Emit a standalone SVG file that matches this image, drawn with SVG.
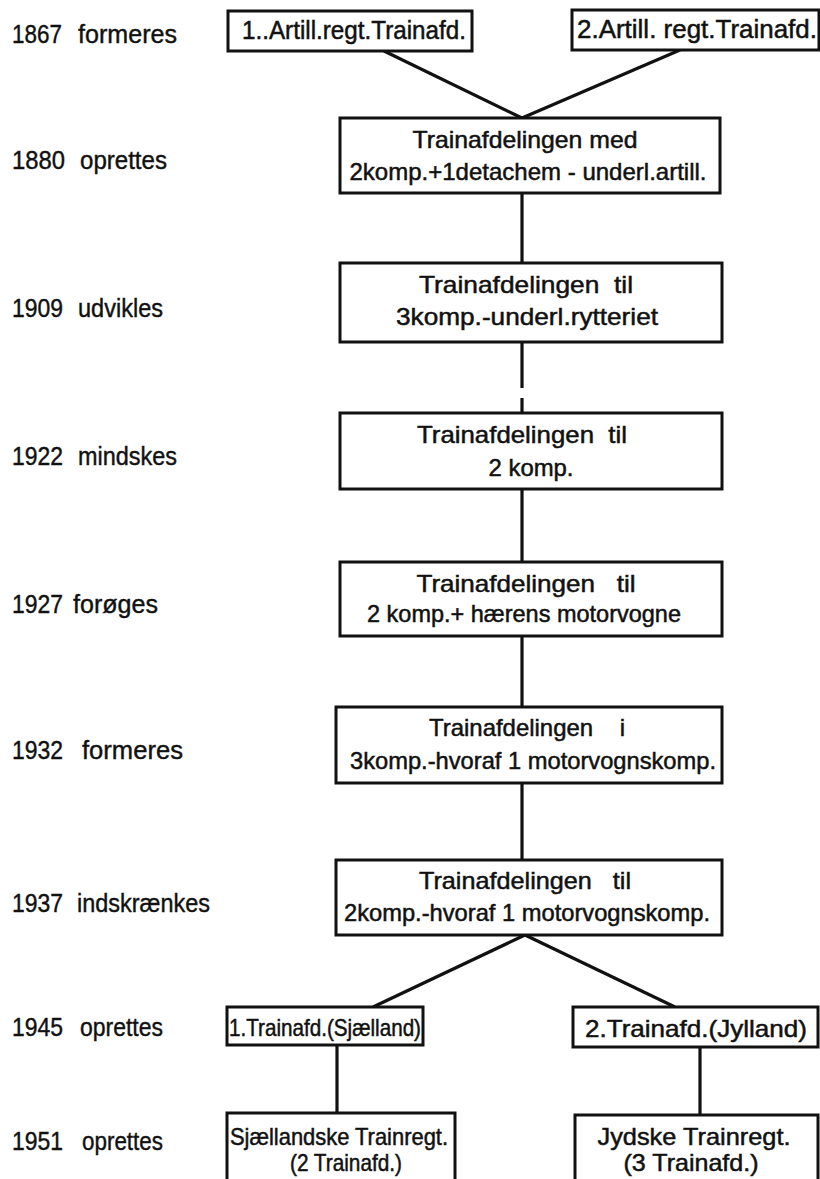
<svg xmlns="http://www.w3.org/2000/svg" width="820" height="1179" viewBox="0 0 820 1179">
<style>
.box{fill:#fff;stroke:#111;stroke-width:3}
.ln{stroke:#111;stroke-width:3.2;fill:none;stroke-linecap:butt}
.t{font-family:"Liberation Sans","DejaVu Sans",sans-serif;font-size:24px;fill:#111;stroke:#111;stroke-width:0.5;text-anchor:middle;white-space:pre}
.tb{font-size:26px}
.lb{font-family:"Liberation Sans","DejaVu Sans",sans-serif;font-size:25px;fill:#111;stroke:#111;stroke-width:0.4;white-space:pre}
</style>
<rect width="820" height="1179" fill="#fff"/>
<g id="connectors">
<line class="ln" x1="384" y1="51" x2="522" y2="118"/>
<line class="ln" x1="680" y1="50" x2="522" y2="118"/>
<line class="ln" x1="522" y1="193" x2="522" y2="263"/>
<line class="ln" x1="522" y1="342" x2="522" y2="388"/>
<line class="ln" x1="522" y1="398" x2="522" y2="413"/>
<line class="ln" x1="522" y1="489" x2="522" y2="562"/>
<line class="ln" x1="522" y1="636" x2="522" y2="707"/>
<line class="ln" x1="522" y1="783" x2="522" y2="860"/>
<line class="ln" x1="525" y1="935" x2="373" y2="1007"/>
<line class="ln" x1="525" y1="935" x2="675" y2="1007"/>
<line class="ln" x1="337" y1="1045" x2="337" y2="1113"/>
<line class="ln" x1="700" y1="1047" x2="700" y2="1115"/>
</g>
<g id="labels">
<text class="lb" x="12" y="43" textLength="50" lengthAdjust="spacingAndGlyphs">1867</text><text class="lb" x="78" y="43" textLength="99" lengthAdjust="spacingAndGlyphs">formeres</text>
<text class="lb" x="12" y="169" textLength="53" lengthAdjust="spacingAndGlyphs">1880</text><text class="lb" x="80" y="169" textLength="87" lengthAdjust="spacingAndGlyphs">oprettes</text>
<text class="lb" x="12" y="317" textLength="51" lengthAdjust="spacingAndGlyphs">1909</text><text class="lb" x="78" y="317" textLength="85" lengthAdjust="spacingAndGlyphs">udvikles</text>
<text class="lb" x="12" y="465" textLength="51" lengthAdjust="spacingAndGlyphs">1922</text><text class="lb" x="78" y="465" textLength="99" lengthAdjust="spacingAndGlyphs">mindskes</text>
<text class="lb" x="12" y="613" textLength="51" lengthAdjust="spacingAndGlyphs">1927</text><text class="lb" x="73" y="613" textLength="85" lengthAdjust="spacingAndGlyphs">forøges</text>
<text class="lb" x="12" y="759" textLength="51" lengthAdjust="spacingAndGlyphs">1932</text><text class="lb" x="82" y="759" textLength="101" lengthAdjust="spacingAndGlyphs">formeres</text>
<text class="lb" x="12" y="912" textLength="51" lengthAdjust="spacingAndGlyphs">1937</text><text class="lb" x="77" y="912" textLength="133" lengthAdjust="spacingAndGlyphs">indskrænkes</text>
<text class="lb" x="12" y="1036" textLength="51" lengthAdjust="spacingAndGlyphs">1945</text><text class="lb" x="80" y="1036" textLength="83" lengthAdjust="spacingAndGlyphs">oprettes</text>
<text class="lb" x="12" y="1150" textLength="51" lengthAdjust="spacingAndGlyphs">1951</text><text class="lb" x="82" y="1150" textLength="81" lengthAdjust="spacingAndGlyphs">oprettes</text>
</g>
<g id="n1867a"><rect class="box" x="228" y="11" width="244" height="40"/><text class="t tb" x="354" y="39" textLength="224" lengthAdjust="spacingAndGlyphs">1..Artill.regt.Trainafd.</text></g>
<g id="n1867b"><rect class="box" x="572" y="10" width="247" height="40"/><text class="t tb" x="697" y="38" textLength="240" lengthAdjust="spacingAndGlyphs">2.Artill. regt.Trainafd.</text></g>
<g id="n1880"><rect class="box" x="340" y="118" width="380" height="75"/><text class="t" x="525" y="148" textLength="225" lengthAdjust="spacingAndGlyphs">Trainafdelingen med</text><text class="t" x="528" y="180" textLength="357" lengthAdjust="spacingAndGlyphs">2komp.+1detachem - underl.artill.</text></g>
<g id="n1909"><rect class="box" x="340" y="263" width="382" height="79"/><text class="t" x="526" y="293" textLength="214" lengthAdjust="spacingAndGlyphs">Trainafdelingen  til</text><text class="t" x="527" y="325" textLength="262" lengthAdjust="spacingAndGlyphs">3komp.-underl.rytteriet</text></g>
<g id="n1922"><rect class="box" x="340" y="413" width="382" height="76"/><text class="t" x="522" y="443" textLength="210" lengthAdjust="spacingAndGlyphs">Trainafdelingen  til</text><text class="t" x="531" y="476" textLength="85" lengthAdjust="spacingAndGlyphs">2 komp.</text></g>
<g id="n1927"><rect class="box" x="340" y="562" width="382" height="74"/><text class="t" x="526" y="592" textLength="219" lengthAdjust="spacingAndGlyphs">Trainafdelingen   til</text><text class="t" x="524" y="622" textLength="314" lengthAdjust="spacingAndGlyphs">2 komp.+ hærens motorvogne</text></g>
<g id="n1932"><rect class="box" x="336" y="707" width="386" height="76"/><text class="t" x="527" y="736" textLength="196" lengthAdjust="spacingAndGlyphs">Trainafdelingen    i</text><text class="t" x="533" y="769" textLength="366" lengthAdjust="spacingAndGlyphs">3komp.-hvoraf 1 motorvognskomp.</text></g>
<g id="n1937"><rect class="box" x="336" y="860" width="386" height="75"/><text class="t" x="525" y="889" textLength="212" lengthAdjust="spacingAndGlyphs">Trainafdelingen   til</text><text class="t" x="527" y="921" textLength="366" lengthAdjust="spacingAndGlyphs">2komp.-hvoraf 1 motorvognskomp.</text></g>
<g id="n1945a"><rect class="box" x="227" y="1007" width="196" height="38"/><text class="t" x="325" y="1036" textLength="192" lengthAdjust="spacingAndGlyphs">1.Trainafd.(Sjælland)</text></g>
<g id="n1945b"><rect class="box" x="573" y="1007" width="245" height="40"/><text class="t" x="696" y="1037" textLength="222" lengthAdjust="spacingAndGlyphs">2.Trainafd.(Jylland)</text></g>
<g id="n1951a"><rect class="box" x="227" y="1113" width="228" height="90"/><text class="t" x="339" y="1145" textLength="218" lengthAdjust="spacingAndGlyphs">Sjællandske Trainregt.</text><text class="t" x="346" y="1171" textLength="112" lengthAdjust="spacingAndGlyphs">(2 Trainafd.)</text></g>
<g id="n1951b"><rect class="box" x="575" y="1115" width="243" height="90"/><text class="t" x="694" y="1145" textLength="193" lengthAdjust="spacingAndGlyphs">Jydske Trainregt.</text><text class="t" x="691" y="1171" textLength="135" lengthAdjust="spacingAndGlyphs">(3 Trainafd.)</text></g>
</svg>
